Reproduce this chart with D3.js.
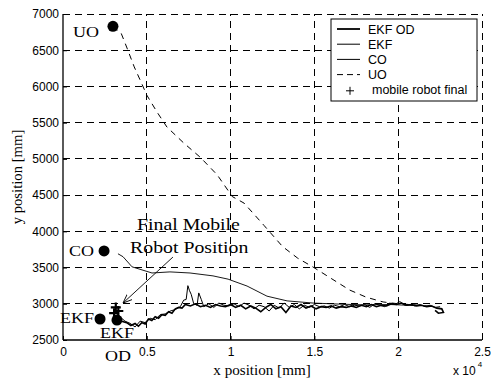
<!DOCTYPE html>
<html>
<head>
<meta charset="utf-8">
<script src="https://cdnjs.cloudflare.com/ajax/libs/d3/7.8.5/d3.min.js"></script>
<style>
body { margin: 0; background: #fff; }
svg { display: block; }
.grid line { stroke: #000; stroke-width: 1; stroke-dasharray: 7,5; shape-rendering: crispEdges; }
.tick-label { font-family: "Liberation Sans", Arial, sans-serif; font-size: 12px; fill: #000; }
.serif { font-family: "Liberation Serif", "Times New Roman", serif; fill: #000; }
.legend text { font-family: "Liberation Sans", Arial, sans-serif; font-size: 12.5px; fill: #000; }
</style>
</head>
<body>
<svg width="492" height="382"></svg>
<script>
// ---- data (mm) ----
var xTicks = [0, 5000, 10000, 15000, 20000, 25000];
var xTickLabels = ["0", "0.5", "1", "1.5", "2", "2.5"];
var yTicks = [2500, 3000, 3500, 4000, 4500, 5000, 5500, 6000, 6500, 7000];

var uo = [[2980,6830],[3460,6740],[3820,6530],[4250,6270],[4600,6090],[5000,5880],[5600,5650],
  [6200,5440],[7200,5220],[8200,5020],[9200,4780],[10100,4480],[10800,4390],[12000,4080],
  [13100,3790],[14000,3630],[14900,3510],[16000,3350],[17100,3190],[18100,3090],[19100,3025],
  [20000,3000],[21000,2985],[22000,2965]];

var co = [[3280,3690],[3580,3650],[4120,3510],[5310,3425],[6380,3440],[7580,3425],[8950,3385],
  [9850,3340],[10980,3245],[12170,3105],[13370,3040],[14920,3010],[16530,2995],[18000,2985],
  [19500,2990],[21000,2975]];

var ekfOd = [[3250,2790],[3500,2760],[3800,2740],[4050,2700],[4300,2730],[4500,2690],[4700,2740],
  [4900,2720],[5100,2790],[5300,2770],[5500,2820],[5700,2800],[5900,2850],[6100,2840],[6300,2890],
  [6500,2870],[6700,2930],[6900,2950],[7100,2940],[7300,2990],[7600,2970],[7900,3000],[8200,2960],
  [8500,2980],[8800,2950],[9100,2990],[9400,2970],[9700,2960],[10000,2990],[10300,2950],[10600,2980],
  [10900,2930],[11200,2970],[11500,2940],[11800,2890],[12100,2950],[12400,2990],[12700,2930],
  [13000,2960],[13300,2880],[13600,2970],[13900,2950],[14200,2990],[14500,2940],[14800,2970],
  [15100,2930],[15400,2960],[15700,2950],[16000,2970],[16300,2940],[16600,2960],[16900,2950],
  [17200,2970],[17500,2950],[17800,2980],[18100,2960],[18400,2990],[18700,2960],[19000,2980],
  [19300,2970],[19600,3000],[19900,2990],[20200,3010],[20500,2980],[20800,2990],[21100,2970],
  [21400,2980],[21700,2960],[22000,2970],[22300,2940],[22600,2930],[22700,2880],[22400,2870],[22200,2910]];

var ekf = [[3100,2900],[3400,2820],[3700,2760],[4000,2730],[4300,2680],[4600,2760],[4900,2740],
  [5200,2800],[5500,2780],[5800,2850],[6100,2860],[6400,2900],[6700,2920],[7000,2960],[7200,3050],
  [7350,3060],[7450,3250],[7550,3180],[7650,3130],[7800,3000],[8000,2980],[8100,3150],[8250,3060],
  [8400,2960],[8700,3000],[9000,2950],[9300,3010],[9600,2980],[9900,2970],[10200,3000],[10500,2960],
  [10800,3010],[11100,2980],[11400,2930],[11700,2980],[12000,2960],[12300,2900],[12600,2980],
  [12900,2940],[13200,3010],[13500,2950],[13800,2990],[14100,2930],[14400,2980],[14700,2950],
  [15000,2990],[15300,2960],[15600,2970],[15900,2940],[16200,2980],[16500,2960],[16800,2990],
  [17100,2960],[17400,2980],[17700,2970],[18000,2990],[18300,2950],[18600,3000],[18900,2980],
  [19200,2960],[19500,3010],[19800,2990],[20100,3030],[20400,2980],[20700,2990],[21000,2970],
  [21300,2990],[21600,2960],[21900,2980],[22200,2950],[22500,2960]];

var startDots = [[2980,6830],[2450,3730],[2210,2790],[3220,2775]];
var finalMarks = [[3150,2950],[3300,2900],[3050,2870]];

var labels = [
  {t: "UO", x: 600, y: 6680, s: 15},
  {t: "CO", x: 360, y: 3660, s: 15},
  {t: "EKF", x: -180, y: 2735, s: 15},
  {t: "EKF", x: 2210, y: 2528, s: 15},
  {t: "OD", x: 2500, y: 2210, s: 15},
  {t: "Final Mobile", x: 4420, y: 4018, s: 16.5},
  {t: "Robot Position", x: 4000, y: 3701, s: 16.5}
];
var arrowFrom = [6560, 3645], arrowTo = [3580, 3010];

var legendItems = ["EKF OD", "EKF", "CO", "UO", "mobile robot final"];

// ---- scales ----
var svg = d3.select("svg");
var x = d3.scaleLinear().domain([0, 25000]).range([63, 482]);
var y = d3.scaleLinear().domain([2500, 7000]).range([340, 14]);

// grid
var grid = svg.append("g").attr("class", "grid");
grid.selectAll(".gx").data(xTicks.slice(1)).enter().append("line")
    .attr("x1", function(d) { return x(d); }).attr("x2", function(d) { return x(d); })
    .attr("y1", y(2500)).attr("y2", y(7000));
grid.selectAll(".gy").data(yTicks.slice(1)).enter().append("line")
    .attr("x1", x(0)).attr("x2", x(25000))
    .attr("y1", function(d) { return y(d); }).attr("y2", function(d) { return y(d); });

// axes (ticks inside, like matlab)
var xAxis = d3.axisBottom(x).tickValues(xTicks).tickSize(-4)
    .tickFormat(function(d, i) { return xTickLabels[i]; });
var yAxis = d3.axisLeft(y).tickValues(yTicks).tickSize(-4).tickFormat(d3.format("d"));

var gx = svg.append("g").attr("transform", "translate(0," + y(2500) + ")").call(xAxis);
var gy = svg.append("g").attr("transform", "translate(" + x(0) + ",0)").call(yAxis);
[gx, gy].forEach(function(g) {
  g.select(".domain").attr("stroke", "#000").attr("stroke-width", 1.3);
  g.selectAll(".tick line").attr("stroke", "#000");
  g.selectAll(".tick text").attr("class", "tick-label").attr("fill", "#000");
});
gx.selectAll(".tick text").attr("dy", "0.71em").attr("y", 7);
gy.selectAll(".tick text").attr("x", -4);
gx.select(".domain").attr("d", "M" + x(0) + ",0H" + x(25000));
gy.select(".domain").attr("d", "M0," + y(2500) + "V" + y(7000));

// axis labels
svg.append("text").attr("class", "serif").attr("font-size", 14)
    .attr("text-anchor", "middle")
    .attr("transform", "translate(262,375) scale(1.08,1)")
    .text("x position [mm]");
svg.append("text").attr("class", "serif").attr("font-size", 14)
    .attr("text-anchor", "middle")
    .attr("transform", "translate(22,177) rotate(-90) scale(1.05,1)")
    .text("y position [mm]");
var exp = svg.append("text").attr("class", "tick-label").attr("font-size", 11)
    .attr("x", 453).attr("y", 375);
exp.append("tspan").text("x 10");
exp.append("tspan").attr("font-size", 8).attr("dy", -8).attr("dx", 2).text("4");

// series
var line = d3.line().x(function(d) { return x(d[0]); }).y(function(d) { return y(d[1]); });
svg.append("path").datum(uo).attr("d", line).attr("fill", "none")
    .attr("stroke", "#000").attr("stroke-width", 1).attr("stroke-dasharray", "6,5");
svg.append("path").datum(co).attr("d", line).attr("fill", "none")
    .attr("stroke", "#000").attr("stroke-width", 0.9);
svg.append("path").datum(ekf).attr("d", line).attr("fill", "none")
    .attr("stroke", "#000").attr("stroke-width", 1);
svg.append("path").datum(ekfOd).attr("d", line).attr("fill", "none")
    .attr("stroke", "#000").attr("stroke-width", 1.6);

// start dots and final markers
svg.selectAll(".dot").data(startDots).enter().append("circle")
    .attr("cx", function(d) { return x(d[0]); }).attr("cy", function(d) { return y(d[1]); })
    .attr("r", 5.5).attr("fill", "#000");
svg.selectAll(".fin").data(finalMarks).enter().append("path")
    .attr("d", function(d) {
      var px = x(d[0]), py = y(d[1]);
      return "M" + (px - 5) + "," + py + "H" + (px + 5) + "M" + px + "," + (py - 5) + "V" + (py + 5);
    })
    .attr("stroke", "#000").attr("stroke-width", 2.2);

// annotations
svg.selectAll(".lab").data(labels).enter().append("text")
    .attr("class", "serif").attr("font-size", function(d) { return d.s; })
    .attr("transform", function(d) { return "translate(" + x(d.x) + "," + y(d.y) + ") scale(1.2,1)"; })
    .text(function(d) { return d.t; });

svg.append("defs").append("marker").attr("id", "arr")
    .attr("viewBox", "0 0 10 10").attr("refX", 10).attr("refY", 5)
    .attr("markerWidth", 10).attr("markerHeight", 10).attr("orient", "auto")
  .append("path").attr("d", "M0,1L10,5L0,9").attr("fill", "none").attr("stroke", "#000").attr("stroke-width", 1);
svg.append("line")
    .attr("x1", x(arrowFrom[0])).attr("y1", y(arrowFrom[1]))
    .attr("x2", x(arrowTo[0])).attr("y2", y(arrowTo[1]))
    .attr("stroke", "#000").attr("stroke-width", 0.9).attr("marker-end", "url(#arr)");

// legend
var lg = svg.append("g").attr("class", "legend").attr("transform", "translate(331,19)");
lg.append("rect").attr("width", 146).attr("height", 82)
    .attr("fill", "#fff").attr("stroke", "#000").attr("stroke-width", 1);
var rows = lg.selectAll(".row").data(legendItems).enter().append("g")
    .attr("transform", function(d, i) { return "translate(0," + (10 + i * 15.2) + ")"; });
rows.filter(function(d, i) { return i < 4; }).append("line")
    .attr("x1", 6).attr("x2", 29).attr("y1", 0).attr("y2", 0).attr("stroke", "#000")
    .attr("stroke-width", function(d, i) { return i === 0 ? 1.8 : 1; })
    .attr("stroke-dasharray", function(d, i) { return i === 3 ? "6,4" : null; });
rows.filter(function(d, i) { return i === 4; }).append("path")
    .attr("d", "M15,1H23M19,-3V5").attr("stroke", "#000").attr("stroke-width", 1);
rows.append("text")
    .attr("x", function(d, i) { return i === 4 ? 41 : 37; }).attr("y", 4.5)
    .text(function(d) { return d; });
</script>
</body>
</html>
